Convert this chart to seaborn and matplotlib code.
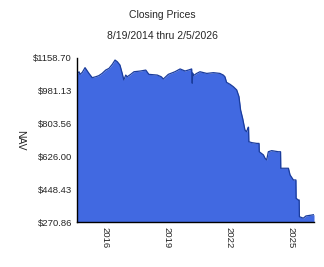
import matplotlib
matplotlib.use("Agg")
import matplotlib.pyplot as plt
import seaborn as sns
import pandas as pd

dates = [
    "2014-08-19", "2014-09-24", "2014-10-12", "2014-11-21", "2015-01-08", "2015-02-06",
    "2015-03-18", "2015-05-15", "2015-07-16", "2015-09-09", "2015-11-06", "2016-01-08",
    "2016-03-06", "2016-05-04", "2016-06-21", "2016-07-31", "2016-09-16", "2016-10-26",
    "2016-11-24", "2016-12-27", "2017-01-22", "2017-03-25", "2017-05-22", "2017-09-16",
    "2017-12-16", "2018-02-09", "2018-07-09", "2018-09-16", "2018-10-23", "2019-01-19",
    "2019-05-16", "2019-08-15", "2019-11-10", "2020-01-08", "2020-03-06", "2020-03-16",
    "2020-03-24", "2020-04-05", "2020-06-03", "2020-07-31", "2020-11-28", "2021-03-25",
    "2021-07-19", "2021-09-16", "2021-10-15", "2021-11-13", "2022-01-15", "2022-03-14",
    "2022-05-11", "2022-06-20", "2022-07-19", "2022-08-24", "2022-10-04", "2022-11-02",
    "2022-12-01", "2022-12-06", "2022-12-12", "2023-02-02", "2023-05-01", "2023-06-10",
    "2023-06-14", "2023-08-26", "2023-09-24", "2023-10-23", "2023-11-21", "2024-01-19",
    "2024-05-15", "2024-06-24", "2024-06-28", "2024-11-10", "2024-12-09", "2025-02-06",
    "2025-03-22", "2025-03-26", "2025-05-05", "2025-05-19", "2025-05-23", "2025-07-31",
    "2025-09-16", "2025-12-27", "2026-02-05",
]
nav = [
    1068, 1082, 1068, 1079, 1104, 1091,
    1073, 1050, 1055, 1061, 1073, 1091,
    1100, 1122, 1145, 1136, 1118, 1073,
    1038, 1064, 1055, 1068, 1082, 1086,
    1091, 1068, 1064, 1055, 1043, 1068,
    1082, 1097, 1086, 1091, 1097, 1020,
    1075, 1061, 1073, 1082, 1073, 1077,
    1073, 1064, 1055, 1025, 1014, 1001,
    984, 948, 876, 831, 768, 759,
    783, 783, 705, 700, 696, 696,
    651, 634, 616, 607, 651, 657,
    651, 651, 562, 562, 526, 499,
    499, 400, 391, 391, 301, 293,
    305, 310, 312,
]
y_ticks = [270.86, 448.43, 626.00, 803.56, 981.13, 1158.70]
x_tick_years = [2016, 2019, 2022, 2025]
title = "Closing Prices"
subtitle = "8/19/2014 thru 2/5/2026"
y_label = "NAV"

df = pd.DataFrame({"date": pd.to_datetime(dates), "nav": nav})

sns.set_style("white")
plt.rcParams["font.family"] = ["Liberation Sans", "DejaVu Sans"]

fig = plt.figure(figsize=(3.24, 2.67), dpi=100)
W, H = 324, 267
ax = fig.add_axes([77 / W, 1 - 222.3 / H, (314 - 77) / W, (222.3 - 57.5) / H])

ax.fill_between(df["date"], y_ticks[0], df["nav"], color="#4169E1", linewidth=0, zorder=1)
sns.lineplot(data=df, x="date", y="nav", ax=ax, color="#1a3c9c", linewidth=0.9, zorder=2)

ax.set_xlim(df["date"].iloc[0], df["date"].iloc[-1])
ax.set_ylim(y_ticks[0], y_ticks[-1])
ax.set_yticks(y_ticks)
ax.set_yticklabels([f"${v:.2f}" for v in y_ticks], fontsize=6.8)
xt = [pd.Timestamp(f"{y}-01-01") for y in x_tick_years]
ax.set_xticks(xt)
ax.set_xticklabels([str(y) for y in x_tick_years], rotation=270, fontsize=6.8)
ax.tick_params(axis="both", length=0, pad=3.5)
ax.set_xlabel("")
ax.set_ylabel(y_label, rotation=270, fontsize=7.5)
ax.yaxis.set_label_coords(-0.26, 0.5)

for s in ["top", "right"]:
    ax.spines[s].set_visible(False)
for s in ["left", "bottom"]:
    ax.spines[s].set_color("black")
    ax.spines[s].set_linewidth(1)

fig.text(0.5, 1 - 15 / H, title, ha="center", va="center", fontsize=7.5)
fig.text(0.5, 1 - 36 / H, subtitle, ha="center", va="center", fontsize=7.5)

fig.savefig("out.png", dpi=100)
